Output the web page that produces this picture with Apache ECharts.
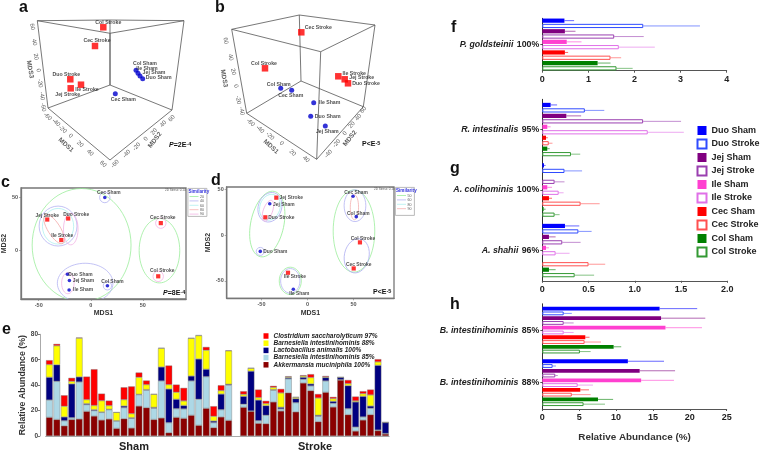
<!DOCTYPE html>
<html><head><meta charset="utf-8">
<style>html,body{margin:0;padding:0;background:#fff}#c{width:760px;height:451px}</style>
<script src="https://cdn.jsdelivr.net/npm/echarts@6/dist/echarts.min.js"></script></head>
<body><div id="c"></div><script>
// ---------- panels a, b : projected ordination positions ----------
const pointNames=['Col Stroke','Cec Stroke','Duo Stroke','Jej Stroke','Ile Stroke','Col Sham','Ile Sham','Jej Sham','Duo Sham','Cec Sham'];
const aPoints=[[103.3,27.3],[95,46],[70.3,79.3],[70.7,88.3],[81,84.7],[136,70.3],[138,73.3],[140,76],[142.7,78.7],[115.3,93.7]];
const bPoints=[[65,68.3],[101.3,32.3],[148,83.3],[144.7,79.3],[138.3,76.3],[80.7,88.3],[113.7,102.7],[125.3,126],[110.7,116.3],[91.7,90.3]];
const aEdges=[[37.3,20.7,110,33.3],[110,33.3,184,20.7],[37.3,20.7,110,20],[110,20,184,20.7],[37.3,20.7,48,108],[184,20.7,172,110],[110,20,110,85],[110,33.3,110,85],[48,108,110,85],[110,85,172,110],[48,108,110,160],[172,110,110,160]];
const bEdges=[[31.7,29.3,120.7,51.7],[120.7,51.7,175,25],[31.7,29.3,99.3,15],[99.3,15,175,25],[31.7,29.3,46.7,113.3],[175,25,163.3,106.7],[99.3,15,101,81],[120.7,51.7,116.7,159.3],[46.7,113.3,101,81],[101,81,163.3,106.7],[46.7,113.3,116.7,159.3],[163.3,106.7,116.7,159.3]];
const aTicks=[[32.3,26.7,'60',-80],[34.3,42.3,'40',-80],[36,56.7,'20',-80],[38.3,70.3,'0',-80],[40,83.3,'-20',-80],[42,96,'-40',-80],[43.3,107.3,'-60',-80],[30,69.3,'MDS3',-80],
[47.7,116.7,'-60',-42],[56,122.7,'-40',-42],[62.7,129.3,'-20',-42],[70.7,136,'0',-42],[80,144,'20',-42],[90,152.7,'40',-42],[103,164,'60',-42],[66,145,'MDS1',-42],
[171.7,118.3,'60',48],[163.3,124,'40',48],[154,131.7,'20',48],[146,139,'0',48],[136.7,146.7,'-20',48],[126.7,154,'-40',48],[115,164,'-60',48],[155,140,'MDS2',52]];
const bTicks=[[25.7,40.7,'60',-80],[30.7,57.3,'40',-80],[33.3,71.7,'20',-80],[36,86,'0',-80],[38.3,100,'-20',-80],[41.7,111,'-40',-80],[24,78.3,'MDS3',-80],
[50.7,122.7,'-60',-42],[60,129.3,'-40',-42],[70,136,'-20',-42],[81.7,143.3,'0',-42],[92.7,152.7,'20',-42],[106,159.3,'40',-42],[71,146.7,'MDS1',-42],
[163.3,110,'60',48],[158.3,117.3,'40',48],[151.7,125,'20',48],[145,133.3,'0',48],[136.7,143.3,'-20',48],[128.3,154,'-40',48],[150,138.3,'MDS2',52]];
// ---------- panels c, d : MDS1 / MDS2 ----------
const cNames=['Cec Sham','Jej Stroke','Duo Stroke','Ile Stroke','Cec Stroke','Col Stroke','Duo Sham','Jej Sham','Ile Sham','Col Sham'];
const cPoints=[[13.5,50],[-41.8,29],[-21.7,30],[-28.3,9.5],[67.3,25.6],[64.8,-25],[-22.4,-23],[-20.5,-29],[-20.8,-38],[16,-34]];
const dNames=['Jej Stroke','Jej Sham','Duo Stroke','Duo Sham','Ile Stroke','Ile Sham','Cec Sham','Col Sham','Col Stroke','Cec Stroke'];
const dPoints=[[-33.9,41.3],[-41,34.7],[-45.8,19.8],[-51.3,-17.6],[-21.2,-41],[-15.4,-59],[49.5,42.8],[53,20.5],[57,-7.7],[50.2,-36.3]];
// contours: centre x, centre y, radius x, radius y, tilt, similarity level
const cContours=[[-8.8,4.7,47.5,53.8,0,0],[-31.4,22.8,18.2,19,0,1],[-31.4,22.6,15,17,0,2],[-35.2,19.9,6,16,-32,3],[-19.2,19.9,7,15,0,4],[-5.4,-31.6,26.7,19,0,1],[-22,-31.6,6,10,0,4],[13.5,50,5,5,0,1],[16,-34,4,4,0,1],[66,-0.6,19.5,30.7,0,0],[67.3,25.6,5,5,0,4],[64.8,-25,5,5,0,4]];
const dContours=[[-43.7,12.4,18,36.6,12,0],[-40.8,30.8,12.7,16.5,18,1],[-40.8,30.8,11,14.5,18,2],[-43,27,5,12,20,4],[-51.3,-17.6,4.4,4.4,0,1],[-18.7,-49.9,12,15,0,0],[-18.7,-49.9,10.5,13.5,0,1],[50.5,4.7,22.6,45,0,0],[51.6,32.5,11.8,17.4,0,1],[51,30.8,4.5,13.7,0,3],[53.5,-22.4,13.4,19,12,1]];
// ---------- panel e ----------
const eCategories=Array.from({length:46},(_,i)=>'S'+(i+1));
const akkermansia=[14.7,13,8,13,13.4,19.4,15.7,12.6,13.4,6,13.6,6.3,23.6,22.3,13,14.2,2.6,14.7,13.9,16.3,8.4,21.8,6.6,15,12.3,null,22.6,19.4,10,9.7,26.8,19.7,34,19,41.7,35.7,11.3,34.4,22.8,44,16.8,3.9,12.6,16.8,4.2,1.6];
const barnesiella85=[13.6,30,4,1.4,29.1,5.3,4.3,6,7.3,5.8,8.7,7.6,8.9,13.7,8.8,29.1,7.9,6.8,7.4,27,20.5,24.9,3.9,5.7,27.7,null,2.4,0.3,2,6.6,9.2,1.6,11,7.2,2.9,3.7,4.2,8.9,2.9,0.3,4.7,3.1,2.4,5,0.5,0.4];
const lactobacillus=[17.9,13,3,26.6,4,0.8,0.7,0.3,0.3,0.2,1.3,0.5,0.3,0.5,0.7,11,26.5,7.4,2.7,3.9,31.7,5.8,1.3,12.3,0.7,null,6.2,31.3,16.3,7.6,0.5,1.3,0.9,3.2,1.6,1.6,0.8,2.7,1.6,1.7,18.1,19.8,16.2,1.8,50.9,8.5];
const barnesiella88=[10,15,8.4,2,30.5,3.1,3.3,8.9,2.9,6.6,5,3.2,13.4,3.9,10.3,14.7,3.4,5.5,3.6,29.7,18.4,15,3.7,2.7,26.3,null,1.6,2.3,1.9,1.6,1.8,11.3,0.6,1,1,5,13.6,0.5,2.1,0.2,1.6,0.8,2.1,8.7,2.7,0.3];
const clostridium=[3.4,1.4,8.6,2.7,0.4,18.1,28.5,5.5,3.9,0,9.7,21.4,3.7,3.2,0.2,0.3,15,6,10.2,0.1,0.3,2.5,7.9,4.2,0.4,null,2.4,0.2,6.3,2.1,1.1,3.1,0.5,0.3,0.6,2.6,3.1,0.7,1.3,0,2.8,3.4,1.9,4.2,2.1,0];
const eNames=['Clostridium saccharolyticum 97%','Barnesiella intestinihominis 88%','Lactobacillus animalis 100%','Barnesiella intestinihominis 85%','Akkermansia muciniphila 100%'];
// ---------- panels f, g, h ----------
const groupNames=['Duo Sham','Duo Stroke','Jej Sham','Jej Stroke','Ile Sham','Ile Stroke','Cec Sham','Cec Stroke','Col Sham','Col Stroke'];
const fCategories=['P. goldsteinii 100%'];
const fMeans=[[.48,2.19,.49,1.56,.53,1.66,.49,1.48,1.2,1.61]];
const fErrors=[[.69,3.42,.72,2.2,.85,2.44,.56,1.71,1.48,1.96]];
const gCategories=['R. intestinalis 95%','A. colihominis 100%','A. shahii 96%'];
const gMeans=[[.09,.46,.26,1.09,.054,1.14,.04,.07,.054,.31],[.018,.24,0,.133,.054,.177,.072,.414,.014,.133],[.245,.39,.072,.216,.04,.144,0,.5,.072,.35]];
const gErrors=[[.16,.67,.42,1.5,.09,1.53,.06,.11,.08,.41],[.036,.43,0,.24,.105,.23,.105,.62,.036,.187],[.4,.533,.144,.414,.072,.295,0,.68,.144,.56]];
const hCategories=['B. intestinihominis 85%','B. intestinihominis 88%'];
const hMeans=[[15.9,2.9,16.1,2.9,16.7,2.9,5.83,5.74,9.67,5.1],[11.6,1.4,13.2,1.76,13.4,4.8,5.15,4,7.55,5.6]];
const hErrors=[[21,4,22.1,4.25,21.65,4.25,6.4,7.96,10.7,6.55],[16.5,1.85,18,2.1,17.85,6.87,6.33,6.55,9.6,8.5]];

// ---------- presentation ----------
const FONT='"Liberation Sans",Arial,sans-serif';
const RED='#ff0000',BLUE='#0000cd';
const aOffsets=[[5,-5],[2,-5],[-4,-5],[-3,6],[6,5],[9,-7],[9,-5],[14,-3],[16,-1],[8,6]];
const bOffsets=[[-1,-5],[17,-5],[18,0],[17,-2],[16,-3],[-2,-4],[16,0],[2,6],[17,0],[-1,5]];
const cOffsets=[[4,-5],[0,-4],[8,-4],[1,-4],[2,-5],[4,-6],[13,0],[14,0],[14,0],[5,-4]];
const dOffsets=[[15,0],[14,1],[16,0],[15,0],[7,4],[6,4],[3,-4],[2,-3],[3,-4],[5,-4]];
const contourColors=['#9cee9c','#b4b4f2','#b0f0f0','#f4b0b0','#f2b4e4'];
const barColors=['#0000ff','#2f4bff','#800080','#9a3fb0','#ff40d0','#e070e8','#ff0000','#ff5050','#008000','#339933'];
const frame={show:true,borderColor:'#777',borderWidth:1.3,backgroundColor:'transparent'};
const grids=[
 {left:0,top:0,width:200,height:170},{left:200,top:0,width:200,height:170},
 Object.assign({left:19,top:188,width:167,height:111},frame),Object.assign({left:226.7,top:187,width:167.3,height:111.3},frame),
 {left:45.6,top:334.3,width:343.6,height:101.7},
 {left:542.3,top:18.3,width:184.4,height:52.4},{left:542.3,top:99.3,width:185,height:181.5},{left:542.3,top:303.8,width:184.4,height:105.2}];
const hidden=(m)=>({type:'value',min:0,max:m,show:false});
const mdsAxis=(idx,min,max,vals,name,gap)=>({type:'value',gridIndex:idx,min,max,splitLine:{show:false},name,nameLocation:'middle',nameGap:gap,
 nameTextStyle:{fontFamily:FONT,fontWeight:'bold',fontSize:7,color:'#333'},
 axisLine:{show:true,onZero:false,lineStyle:{color:'#777',width:1.3}},
 axisTick:{show:true,length:2,lineStyle:{color:'#777',width:.6},customValues:vals},
 axisLabel:{show:true,fontFamily:FONT,fontWeight:'bold',fontSize:5.5,color:'#555',margin:3,customValues:vals,hideOverlap:false}});
function valAxis(idx,max,interval,fmt,name){return {type:'value',gridIndex:idx,min:0,max,interval,splitLine:{show:false},
 name:name||'',nameLocation:'middle',nameGap:23,nameTextStyle:{fontFamily:FONT,fontWeight:'bold',fontSize:9.9,color:'#333'},
 axisLine:{show:true,lineStyle:{color:'#555',width:1}},axisTick:{show:true,length:2,lineStyle:{color:'#555'}},
 axisLabel:Object.assign({fontFamily:FONT,fontWeight:'bold',fontSize:9,color:'#222',margin:4},fmt?{formatter:fmt}:{})};}
function catAxis(idx,cats){return {type:'category',gridIndex:idx,data:cats,inverse:true,
 axisLine:{show:true,onZero:false,lineStyle:{color:'#333',width:1}},axisTick:{show:true,alignWithLabel:true,length:2,lineStyle:{color:'#555'}},
 axisLabel:{margin:3,fontFamily:FONT,color:'#222',formatter:v=>{const k=v.lastIndexOf(' ');return '{i|'+v.slice(0,k)+'} {n|'+v.slice(k+1)+'}';},
  rich:{i:{fontFamily:FONT,fontStyle:'italic',fontWeight:'bold',fontSize:8.8,color:'#222'},n:{fontFamily:FONT,fontWeight:'bold',fontSize:8.8,color:'#222'}}}};}
const xAxes=[Object.assign(hidden(200),{gridIndex:0}),Object.assign(hidden(200),{gridIndex:1}),
 mdsAxis(2,-67,91.5,[-50,0,50],'MDS1',11),mdsAxis(3,-87.8,94,[-50,0,50],'MDS1',11),
 {type:'category',gridIndex:4,data:eCategories,axisLabel:{show:false},axisTick:{show:false},axisLine:{lineStyle:{color:'#aaa',width:1}}},
 valAxis(5,4,1),valAxis(6,2,.5,v=>v===0?'0':v.toFixed(1)),valAxis(7,25,5,null,'Relative Abundance (%)')];
const yAxes=[Object.assign(hidden(170),{gridIndex:0,inverse:true}),Object.assign(hidden(170),{gridIndex:1,inverse:true}),
 mdsAxis(2,-46.6,59,[0,50],'MDS2',8),mdsAxis(3,-69,53,[-50,0,50],'MDS2',6),
 {type:'value',gridIndex:4,min:0,max:80,interval:20,offset:5.6,splitLine:{show:false},name:'Relative Abundance (%)',nameLocation:'middle',nameGap:13,
  nameTextStyle:{fontFamily:FONT,fontWeight:'bold',fontSize:8.8,color:'#333'},
  axisLine:{show:true,lineStyle:{color:'#aaa'}},axisTick:{show:true,length:2,lineStyle:{color:'#777'}},
  axisLabel:{fontFamily:FONT,fontWeight:'bold',fontSize:6.5,color:'#444',margin:2}},
 catAxis(5,fCategories),catAxis(6,gCategories),catAxis(7,hCategories)];

const series=[];
const sym=n=>/Stroke/.test(n)?'rect':'circle';
function points(idx,names,pts,offsets,sq,ci,fs){
 series.push({type:'scatter',xAxisIndex:idx,yAxisIndex:idx,z:5,
  data:pts.map((p,i)=>({value:p,name:names[i],symbol:sym(names[i]),symbolSize:/Stroke/.test(names[i])?sq:ci,
   itemStyle:{color:/Stroke/.test(names[i])?RED:BLUE},
   label:{show:true,position:'inside',align:'center',verticalAlign:'middle',offset:offsets[i],formatter:names[i],fontFamily:FONT,fontWeight:'bold',fontSize:fs,color:'#222'}}))});
}
function edges(idx,list){
 series.push({type:'custom',xAxisIndex:idx,yAxisIndex:idx,z:1,data:list,silent:true,renderItem:(p,api)=>{
  const a=api.coord([api.value(0),api.value(1)]),b=api.coord([api.value(2),api.value(3)]);
  return {type:'line',shape:{x1:a[0],y1:a[1],x2:b[0],y2:b[1]},style:{stroke:'#555',lineWidth:.8}};}});
}
function ticks(idx,list){
 series.push({type:'scatter',xAxisIndex:idx,yAxisIndex:idx,z:2,symbolSize:0,silent:true,
  data:list.map(t=>({value:[t[0],t[1]],label:{show:true,position:'inside',align:'center',verticalAlign:'middle',formatter:t[2],rotate:t[3],fontFamily:FONT,fontSize:/MDS/.test(t[2])?6.5:6,fontWeight:/MDS/.test(t[2])?'bold':'normal',color:'#333'}}))});
}
function contours(idx,list){
 series.push({type:'custom',xAxisIndex:idx,yAxisIndex:idx,z:2,data:list,clip:true,silent:true,renderItem:(p,api)=>{
  const c=api.coord([api.value(0),api.value(1)]),s=api.size([api.value(2),api.value(3)]);
  return {type:'ellipse',shape:{cx:c[0],cy:c[1],rx:s[0],ry:s[1]},rotation:-api.value(4)*Math.PI/180,originX:c[0],originY:c[1],
   style:{fill:'none',stroke:contourColors[api.value(5)],lineWidth:.8}};}});
}
edges(0,aEdges);edges(1,bEdges);ticks(0,aTicks);ticks(1,bTicks);
points(0,pointNames,aPoints,aOffsets,6.5,5,5.2);points(1,pointNames,bPoints,bOffsets,6.5,5,5.2);
contours(2,cContours);contours(3,dContours);
points(2,cNames,cPoints,cOffsets,4.2,3.6,4.9);points(3,dNames,dPoints,dOffsets,4.2,3.6,4.9);

[[akkermansia,'#8b0000',4],[barnesiella85,'#add8e6',3],[lactobacillus,'#000080',2],[barnesiella88,'#ffff00',1],[clostridium,'#ff0000',0]].forEach(s=>{
 series.push({type:'bar',name:eNames[s[2]],xAxisIndex:4,yAxisIndex:4,stack:'e',data:s[0],barCategoryGap:'11%',itemStyle:{color:s[1],borderColor:'#777',borderWidth:.4}});
});
function groupPanel(idx,means,errors,barW,slot){
 groupNames.forEach((n,i)=>{
  const hollow=i%2===1;
  series.push({type:'bar',name:n,xAxisIndex:idx,yAxisIndex:idx,barWidth:barW,barGap:((slot-barW)/barW*100)+'%',z:3,
   data:means.map(g=>g[i]),
   itemStyle:hollow?{color:'#fff',borderColor:barColors[i],borderWidth:1}:{color:barColors[i],borderWidth:0}});
 });
 const rows=[];
 means.forEach((g,c)=>g.forEach((m,i)=>{if(errors[c][i]>m)rows.push([m,errors[c][i],c,i]);}));
 series.push({type:'custom',xAxisIndex:idx,yAxisIndex:idx,z:2,silent:true,data:rows,encode:{x:[0,1],y:2},renderItem:(p,api)=>{
  const a=api.coord([api.value(0),api.value(2)]),b=api.coord([api.value(1),api.value(2)]);
  const y=a[1]+(api.value(3)-4.5)*slot;
  return {type:'line',shape:{x1:a[0],y1:y,x2:b[0],y2:y},style:{stroke:barColors[api.value(3)],lineWidth:.8,opacity:.75}};}});
}
groupPanel(5,fMeans,fErrors,4.2,5.3);groupPanel(6,gMeans,gErrors,4.2,5.47);groupPanel(7,hMeans,hErrors,3.8,4.77);

const letter=(t,x,y)=>({type:'text',left:x,top:y,silent:true,style:{text:t,fontFamily:FONT,fontWeight:'bold',fontSize:16,fill:'#111'}});
const pText=(t,x,y)=>({type:'text',left:x,top:y,silent:true,style:{text:t,fontFamily:FONT,fontWeight:'bold',fontSize:7,fill:'#111',
 rich:{i:{fontFamily:FONT,fontStyle:'italic',fontWeight:'bold',fontSize:7,fill:'#111'},s:{fontFamily:FONT,fontWeight:'bold',fontSize:5.5,fill:'#111',verticalAlign:'top',padding:[0,0,3,0]}}}});
function simBox(x,y,labels){
 const g=[{type:'rect',left:x,top:y,shape:{width:19,height:28},style:{fill:'#fff',stroke:'#aaa',lineWidth:.8}},
  {type:'text',left:x+1,top:y+1.5,style:{text:'Similarity',fontFamily:FONT,fontWeight:'bold',fontSize:4.6,fill:'#3333dd'}}];
 labels.forEach((l,i)=>{
  const yy=y+8.5+i*4.4;
  g.push({type:'line',shape:{x1:x+2,y1:yy,x2:x+11,y2:yy},style:{stroke:contourColors[i],lineWidth:.8}});
  g.push({type:'text',left:x+12.5,top:yy-1.8,style:{text:l,fontFamily:FONT,fontSize:3.6,fill:'#555'}});
 });
 return g;
}
const graphic=[letter('a',19,0),letter('b',215,0),letter('c',1,175),letter('d',211,173),letter('e',2,322),letter('f',451,20),letter('g',450,161),letter('h',450,297),
 pText('{i|P}=2E{s|-4}',169,141),pText('P<E{s|-5}',362,140),pText('{i|P}=8E{s|-4}',163,289),pText('P<E{s|-5}',373,288),
 {type:'text',left:165,top:188.5,style:{text:'2D Stress: 0.14',fontFamily:FONT,fontSize:3,fill:'#555'}},
 {type:'text',left:374,top:187.5,style:{text:'2D Stress: 0.10',fontFamily:FONT,fontSize:3,fill:'#555'}},
 {type:'text',left:119,top:441,style:{text:'Sham',fontFamily:FONT,fontWeight:'bold',fontSize:11,fill:'#222'}},
 {type:'text',left:298,top:441,style:{text:'Stroke',fontFamily:FONT,fontWeight:'bold',fontSize:11,fill:'#222'}},
 ...simBox(187.5,188,['20','40','60','80','90']),...simBox(395,187,['50','60','80','90'])];

const chart=echarts.init(document.getElementById('c'),null,{renderer:'canvas'});
chart.setOption({animation:false,backgroundColor:'#fff',textStyle:{fontFamily:FONT},grid:grids,xAxis:xAxes,yAxis:yAxes,series,graphic,
 legend:[
 {data:eNames,left:263.5,top:332.5,orient:'vertical',padding:0,itemWidth:5,itemHeight:5.5,itemGap:0.2,selectedMode:false,icon:'rect',itemStyle:{borderWidth:0},
  textStyle:{fontFamily:FONT,fontStyle:'italic',fontWeight:'bold',fontSize:6.5,lineHeight:6,color:'#222',
   rich:{i:{fontFamily:FONT,fontStyle:'italic',fontWeight:'bold',fontSize:6.5,lineHeight:6,color:'#222'},n:{fontFamily:FONT,fontWeight:'bold',fontSize:6.5,lineHeight:6,color:'#222'}}},
  formatter:v=>{const k=v.lastIndexOf(' ');return '{i|'+v.slice(0,k)+'} {n|'+v.slice(k+1)+'}';}},
 {data:groupNames,left:696.5,top:126,orient:'vertical',padding:0,itemWidth:9,itemHeight:9,itemGap:3.5,selectedMode:false,icon:'rect',
  textStyle:{fontFamily:FONT,fontWeight:'bold',fontSize:9,lineHeight:9,color:'#222'}}]});
</script></body></html>
